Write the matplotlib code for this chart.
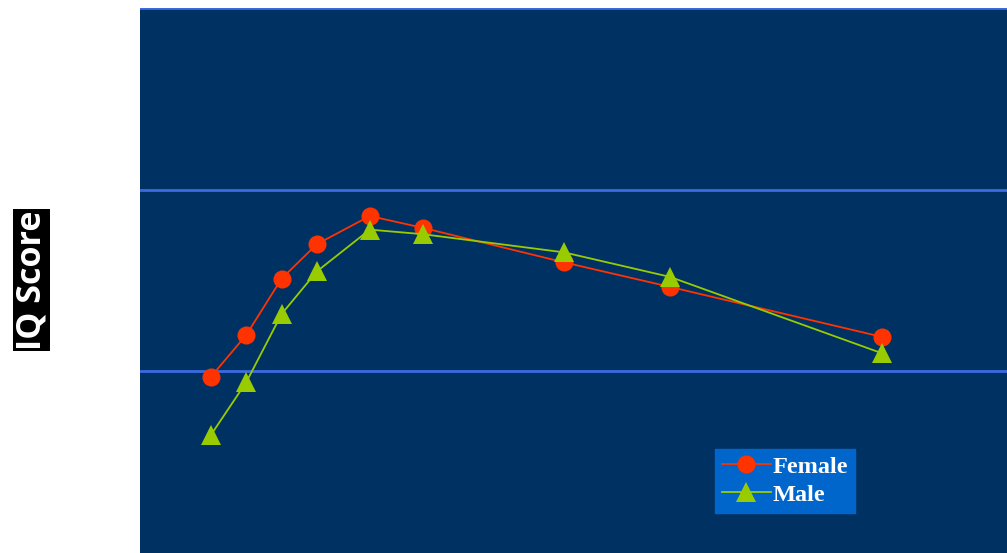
import matplotlib.pyplot as plt

# age (years) at each test point
age = [6, 7, 8, 9, 10.5, 12, 16, 19, 25]
female_iq = [89.7, 92.0, 95.1, 97.0, 98.55, 97.9, 96.0, 94.65, 91.9]
male_iq = [86.5, 89.4, 93.15, 95.5, 97.8, 97.55, 96.55, 95.2, 91.0]

bg = '#003163'
grid_color = '#3a6be0'

fig = plt.figure(figsize=(10.07, 5.53), dpi=100)
ax = fig.add_axes([140 / 1007, 0, 867 / 1007, 545 / 553])
ax.set_facecolor(bg)

ax.plot(age, female_iq, color='#ff3300', linewidth=1.3, marker='o',
        markersize=13, markeredgewidth=0, label='Female', zorder=3)
ax.plot(age, male_iq, color='#99cc00', linewidth=1.3, marker='^',
        markersize=14, markeredgewidth=0, label='Male', zorder=4)

ax.set_xlim(3.99, 28.55)
ax.set_ylim(80, 110)
ax.set_yticks([90, 100, 110])
ax.yaxis.grid(True, color=grid_color, linewidth=2)
ax.set_axisbelow(True)
ax.tick_params(left=False, bottom=False, labelleft=False, labelbottom=False)
for s in ax.spines.values():
    s.set_visible(False)

leg = ax.legend(loc='lower left', bbox_to_anchor=(0.663, 0.073),
                borderaxespad=0, frameon=True, fancybox=False,
                facecolor='#0066cc', edgecolor='#0066cc', framealpha=1,
                prop={'family': 'Liberation Serif', 'weight': 'bold', 'size': 17.5},
                handlelength=2.0, handletextpad=0.08, labelspacing=0.25,
                borderpad=0.3)
for t in leg.get_texts():
    t.set_color('white')

fig.text(31.5 / 1007, 1 - 280 / 553, 'IQ Score', rotation=90, color='white',
         fontsize=24.5, fontweight='bold', family='Open Sans',
         ha='center', va='center',
         bbox=dict(facecolor='black', edgecolor='none', pad=1))

fig.savefig('out.png', dpi=100, facecolor='white')
